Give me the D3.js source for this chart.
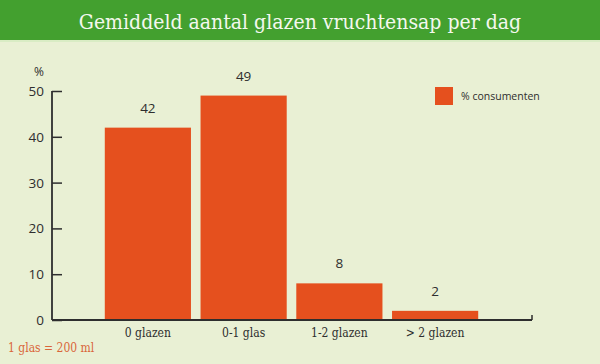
<!DOCTYPE html>
<html><head><meta charset="utf-8">
<script src="https://cdn.jsdelivr.net/npm/d3@7"></script>
<style>body{margin:0;background:#e9f0d4}svg{display:block}</style>
</head><body>
<script>
const categories = ["0 glazen", "0-1 glas", "1-2 glazen", "> 2 glazen"];
const values = [42, 49, 8, 2];
const yTicks = [0, 10, 20, 30, 40, 50];
const title = "Gemiddeld aantal glazen vruchtensap per dag";
const legendLabel = "% consumenten";
const footnote = "1 glas = 200 ml";

const W = 600, H = 364;
const svg = d3.select("body").append("svg").attr("width", W).attr("height", H);
svg.append("rect").attr("width", W).attr("height", H).attr("fill", "#e9f0d4");
svg.append("rect").attr("width", W).attr("height", 40).attr("fill", "#43a02f");
svg.append("rect").attr("y", 40).attr("width", W).attr("height", 2).attr("fill", "#d9ecc4");
svg.append("text").attr("x", 300).attr("y", 29).attr("text-anchor", "middle")
  .attr("font-family", "DejaVu Serif Condensed, DejaVu Serif").attr("font-size", 21)
  .attr("fill", "#f4f8ee").text(title);

const x0 = 52, x1 = 532, yTop = 91, yBot = 320;
const y = d3.scaleLinear().domain([0, 50]).range([yBot, yTop]);
const x = d3.scaleBand().domain(categories).range([100, 483]).paddingInner(0.1).paddingOuter(0.05);

const font = "Open Sans, Noto Sans, sans-serif";
const ink = "#2e2e2e";

// bars
svg.selectAll(".bar").data(values).enter().append("rect")
  .attr("x", (d, i) => x(categories[i])).attr("width", x.bandwidth())
  .attr("y", d => y(d)).attr("height", d => y(0) - y(d)).attr("fill", "#e5501e");
svg.selectAll(".val").data(values).enter().append("text")
  .attr("x", (d, i) => x(categories[i]) + x.bandwidth() / 2).attr("y", d => y(d) - 15)
  .attr("text-anchor", "middle").attr("font-family", font).attr("font-size", 13.5).attr("fill", ink).text(d => d);

// y axis
const yAxis = svg.append("g").attr("transform", `translate(${x0},0)`)
  .call(d3.axisRight(y).tickValues(yTicks).tickSize(10).tickFormat(""));
yAxis.select(".domain").remove();
yAxis.selectAll("line").attr("stroke", ink).attr("stroke-width", 1.5);
svg.append("line").attr("x1", x0).attr("x2", x0).attr("y1", yTop).attr("y2", yBot).attr("stroke", ink).attr("stroke-width", 1.8);
svg.selectAll(".yl").data(yTicks).enter().append("text")
  .attr("x", 44).attr("y", d => y(d) + 5).attr("text-anchor", "end")
  .attr("font-family", font).attr("font-size", 13.5).attr("fill", ink).text(d => d);
svg.append("text").attr("x", 39).attr("y", 76).attr("text-anchor", "middle")
  .attr("font-family", font).attr("font-size", 12).attr("fill", ink).text("%");

// x axis
svg.append("line").attr("x1", x0).attr("x2", x1).attr("y1", yBot).attr("y2", yBot).attr("stroke", ink).attr("stroke-width", 1.8);
svg.append("line").attr("x1", x1).attr("x2", x1).attr("y1", yBot).attr("y2", yBot - 5).attr("stroke", ink).attr("stroke-width", 1.5);
svg.selectAll(".xl").data(categories).enter().append("text")
  .attr("x", d => x(d) + x.bandwidth() / 2).attr("y", 337).attr("text-anchor", "middle")
  .attr("font-family", "DejaVu Serif Condensed, DejaVu Serif").attr("font-size", 12).attr("fill", ink).text(d => d);

// legend
svg.append("rect").attr("x", 435).attr("y", 87).attr("width", 18).attr("height", 18).attr("fill", "#e5501e");
svg.append("text").attr("x", 461).attr("y", 100).attr("font-family", font).attr("font-size", 10.5).attr("fill", ink).text(legendLabel);

// footnote
svg.append("text").attr("x", 8).attr("y", 352).attr("font-family", "DejaVu Serif Condensed, DejaVu Serif")
  .attr("font-size", 12).attr("fill", "#d9663a").text(footnote);
</script>
</body></html>
